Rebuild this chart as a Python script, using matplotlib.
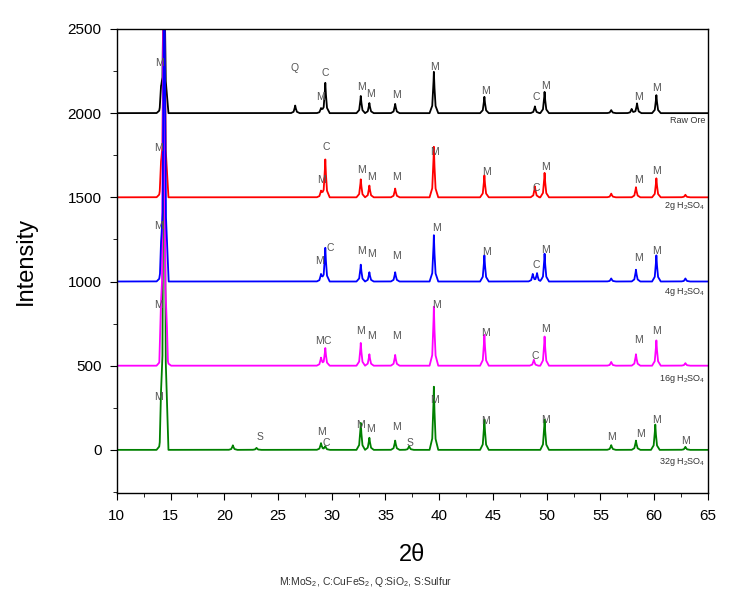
import numpy as np
import matplotlib
matplotlib.use("Agg")
import matplotlib.pyplot as plt
from matplotlib.ticker import MultipleLocator

plt.rcParams['font.family'] = ['Liberation Sans', 'DejaVu Sans']
plt.rcParams['mathtext.default'] = 'regular'

# ---- data: peak tables (2theta, height above baseline) ----
series_names = ["Raw Ore", "2g H$_2$SO$_4$", "4g H$_2$SO$_4$", "16g H$_2$SO$_4$", "32g H$_2$SO$_4$"]
series_colors = ["black", "#ff0000", "#0000ff", "#ff00ff", "#008000"]
offsets = [2000, 1500, 1000, 500, 0]

raw_pos = [14.1, 14.4, 26.6, 29.0, 29.4, 32.7, 33.5, 35.9, 39.5, 44.2, 48.9, 49.8, 56.0, 57.9, 58.4, 60.2]
raw_hgt = [80, 1100, 45, 30, 180, 102, 60, 55, 245, 97, 40, 126, 18, 25, 58, 107]

g2_pos = [14.1, 14.4, 29.0, 29.4, 32.7, 33.5, 35.9, 39.5, 44.2, 48.9, 49.8, 56.0, 58.3, 60.2, 62.9]
g2_hgt = [90, 1600, 40, 225, 107, 70, 52, 300, 130, 65, 145, 22, 60, 113, 15]

g4_pos = [14.1, 14.42, 29.0, 29.4, 32.7, 33.5, 35.9, 39.5, 44.2, 48.7, 49.1, 49.8, 56.0, 58.3, 60.2, 62.9]
g4_hgt = [90, 2200, 45, 200, 100, 55, 55, 275, 155, 45, 50, 165, 18, 70, 155, 18]

g16_pos = [14.1, 14.36, 14.65, 29.0, 29.4, 32.7, 33.5, 35.9, 39.5, 44.2, 48.8, 49.8, 56.0, 58.3, 60.2, 62.9]
g16_hgt = [100, 2600, 70, 48, 105, 135, 68, 64, 350, 183, 35, 173, 22, 68, 150, 15]

g32_pos = [14.1, 14.4, 20.8, 23.0, 29.0, 29.4, 32.7, 33.5, 35.9, 37.2, 39.5, 44.2, 49.8, 56.0, 58.3, 60.1, 62.9]
g32_hgt = [110, 3000, 27, 12, 40, 22, 160, 72, 55, 22, 375, 180, 180, 28, 55, 150, 18]

peak_tables = [(raw_pos, raw_hgt), (g2_pos, g2_hgt), (g4_pos, g4_hgt),
               (g16_pos, g16_hgt), (g32_pos, g32_hgt)]

# phase labels: (2theta, intensity, text)
raw_labels = [(14.0, 2297, "M"), (26.56, 2267, "Q"), (29.0, 2095, "M"), (29.44, 2238, "C"),
              (32.8, 2155, "M"), (33.6, 2113, "M"), (36.0, 2107, "M"), (39.6, 2273, "M"),
              (44.3, 2131, "M"), (49.07, 2095, "C"), (49.9, 2160, "M"), (58.5, 2095, "M"),
              (60.2, 2148, "M")]
g2_labels = [(13.9, 1793, "M"), (29.07, 1603, "M"), (29.5, 1799, "C"), (32.8, 1663, "M"),
             (33.7, 1621, "M"), (36.0, 1621, "M"), (39.6, 1769, "M"), (44.4, 1650, "M"),
             (49.07, 1556, "C"), (49.9, 1680, "M"), (58.5, 1603, "M"), (60.2, 1657, "M")]
g4_labels = [(13.9, 1330, "M"), (28.9, 1122, "M"), (29.9, 1200, "C"), (32.8, 1182, "M"),
             (33.7, 1164, "M"), (36.0, 1152, "M"), (39.7, 1318, "M"), (44.4, 1176, "M"),
             (49.07, 1099, "C"), (49.9, 1188, "M"), (58.5, 1140, "M"), (60.2, 1182, "M")]
g16_labels = [(28.85, 647, "M"), (29.6, 647, "C"), (13.9, 861, "M"), (32.7, 707, "M"),
              (33.7, 677, "M"), (36.0, 677, "M"), (39.7, 861, "M"), (44.3, 695, "M"),
              (48.9, 559, "C"), (49.9, 719, "M"), (58.5, 653, "M"), (60.2, 707, "M")]
g32_labels = [(13.9, 315, "M"), (23.3, 77, "S"), (29.07, 105, "M"), (29.5, 40, "C"),
              (32.7, 148, "M"), (33.6, 125, "M"), (36.0, 137, "M"), (37.3, 42, "S"),
              (39.6, 297, "M"), (44.3, 172, "M"), (49.9, 178, "M"), (56.0, 77, "M"),
              (58.7, 95, "M"), (60.2, 178, "M"), (62.9, 53, "M")]
label_sets = [raw_labels, g2_labels, g4_labels, g16_labels, g32_labels]
name_y = [1958, 1449, 938, 422, -71]

x_ticks = [10, 15, 20, 25, 30, 35, 40, 45, 50, 55, 60, 65]
y_ticks = [0, 500, 1000, 1500, 2000, 2500]

# ---- figure ----
fig = plt.figure(figsize=(7.39, 6.16), dpi=100)
ax = fig.add_axes([0.158, 0.200, 0.800, 0.753])

grid = np.arange(10, 65.001, 0.01)
prof_dx = np.array([-0.4, -0.15, -0.04, 0.0, 0.04, 0.15, 0.4])
prof_rel = np.array([0.0, 0.18, 0.7, 1.0, 0.7, 0.18, 0.0])

order = [0, 1, 4, 3, 2]
for i in order:
    pos, hgt = peak_tables[i]
    y = np.zeros_like(grid)
    for p, h in zip(pos, hgt):
        y += np.interp(grid, p + prof_dx, h * prof_rel, left=0, right=0)
    ax.plot(grid, y + offsets[i], color=series_colors[i], lw=1.3)

for i in range(5):
    for (lx, ly, t) in label_sets[i]:
        ax.text(lx, ly, t, color="#555555", fontsize=7.5, ha="center", va="center")
    ax.text(64.8, name_y[i], series_names[i], color="#333333", fontsize=6.5, ha="right", va="center")

ax.set_xlim(10, 65)
ax.set_ylim(-255, 2500)
ax.set_xticks(x_ticks)
ax.set_yticks(y_ticks)
ax.xaxis.set_minor_locator(MultipleLocator(2.5))
ax.yaxis.set_minor_locator(MultipleLocator(250))
ax.tick_params(which="major", direction="out", length=5, labelsize=11)
ax.tick_params(axis="x", which="major", pad=7)
ax.tick_params(axis="y", which="major", pad=6)
ax.tick_params(which="minor", direction="out", length=3)
for s in ax.spines.values():
    s.set_linewidth(1.0)

ax.set_xlabel("2θ", fontsize=17, labelpad=15)
ax.set_ylabel("Intensity", fontsize=17, labelpad=22)
fig.text(0.495, 0.055, "M:MoS$_2$, C:CuFeS$_2$, Q:SiO$_2$, S:Sulfur", fontsize=7.5,
         ha="center", va="center", color="#333333")

fig.savefig("out.png", dpi=100)
